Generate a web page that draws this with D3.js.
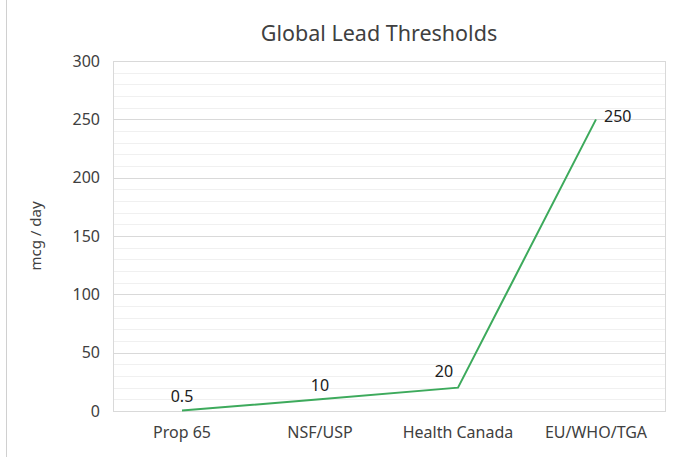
<!DOCTYPE html>
<html>
<head>
<meta charset="utf-8">
<script src="https://cdn.jsdelivr.net/npm/d3@7"></script>
<style>
  body { margin: 0; background: #fff; }
  text { font-family: "Noto Sans", "Open Sans", sans-serif; }
</style>
</head>
<body>
<svg id="chart" width="686" height="457"></svg>
<script>
// Data
const categories = ["Prop 65", "NSF/USP", "Health Canada", "EU/WHO/TGA"];
const values = [0.5, 10, 20, 250];
const labelText = ["0.5", "10", "20", "250"];
const yTicks = [0, 50, 100, 150, 200, 250, 300];

const svg = d3.select("#chart");
const margin = { left: 113, right: 21, top: 61, bottom: 46 };
const width = 686, height = 457;

// left border line of the chart frame
svg.append("line")
  .attr("x1", 6.5).attr("x2", 6.5).attr("y1", 0).attr("y2", height)
  .attr("stroke", "#d0d0d0");

const x = d3.scalePoint()
  .domain(categories)
  .range([margin.left, width - margin.right])
  .padding(0.5);

const y = d3.scaleLinear()
  .domain([0, 300])
  .range([height - margin.bottom, margin.top]);

// minor gridlines
svg.append("g")
  .selectAll("line")
  .data(d3.range(0, 301, 10).filter(v => v % 50 !== 0))
  .enter().append("line")
  .attr("x1", margin.left).attr("x2", width - margin.right)
  .attr("y1", d => Math.round(y(d)) + 0.5).attr("y2", d => Math.round(y(d)) + 0.5)
  .attr("stroke", "#f0f0f0");

// major gridlines
svg.append("g")
  .selectAll("line")
  .data(yTicks)
  .enter().append("line")
  .attr("x1", margin.left).attr("x2", width - margin.right)
  .attr("y1", d => Math.round(y(d)) + 0.5).attr("y2", d => Math.round(y(d)) + 0.5)
  .attr("stroke", "#d9d9d9");

// plot border
svg.append("rect")
  .attr("x", margin.left + 0.5).attr("y", margin.top + 0.5)
  .attr("width", width - margin.left - margin.right)
  .attr("height", height - margin.top - margin.bottom)
  .attr("fill", "none")
  .attr("stroke", "#d9d9d9");

// y tick labels
svg.append("g")
  .selectAll("text")
  .data(yTicks)
  .enter().append("text")
  .attr("x", 100)
  .attr("y", d => y(d))
  .attr("dy", "0.35em")
  .attr("text-anchor", "end")
  .attr("font-size", "16px")
  .attr("fill", "#404040")
  .text(d => d);

// x labels
svg.append("g")
  .selectAll("text")
  .data(categories)
  .enter().append("text")
  .attr("x", d => x(d))
  .attr("y", 438)
  .attr("text-anchor", "middle")
  .attr("font-size", "16px")
  .attr("fill", "#404040")
  .text(d => d);

// y axis title
svg.append("text")
  .attr("transform", "translate(41,236) rotate(-90)")
  .attr("text-anchor", "middle")
  .attr("font-size", "15px")
  .attr("fill", "#404040")
  .text("mcg / day");

// title
svg.append("text")
  .attr("x", 379)
  .attr("y", 41)
  .attr("text-anchor", "middle")
  .attr("font-size", "21.5px")
  .attr("fill", "#404040")
  .text("Global Lead Thresholds");

// line
const pts = categories.map((c, i) => ({ c, v: values[i], t: labelText[i] }));
svg.append("path")
  .datum(pts)
  .attr("fill", "none")
  .attr("stroke", "#3daa5c")
  .attr("stroke-width", 2)
  .attr("d", d3.line().x(d => x(d.c)).y(d => y(d.v)));

// data labels
const offs = [[0, -14, "middle"], [0, -14, "middle"], [-14, -16, "middle"], [8, -3, "start"]];
svg.append("g")
  .selectAll("text")
  .data(pts)
  .enter().append("text")
  .attr("x", (d, i) => x(d.c) + offs[i][0])
  .attr("y", (d, i) => y(d.v) + offs[i][1])
  .attr("dy", "0.35em")
  .attr("text-anchor", (d, i) => offs[i][2])
  .attr("font-size", "16px")
  .attr("fill", "#202020")
  .text(d => d.t);
</script>
</body>
</html>
